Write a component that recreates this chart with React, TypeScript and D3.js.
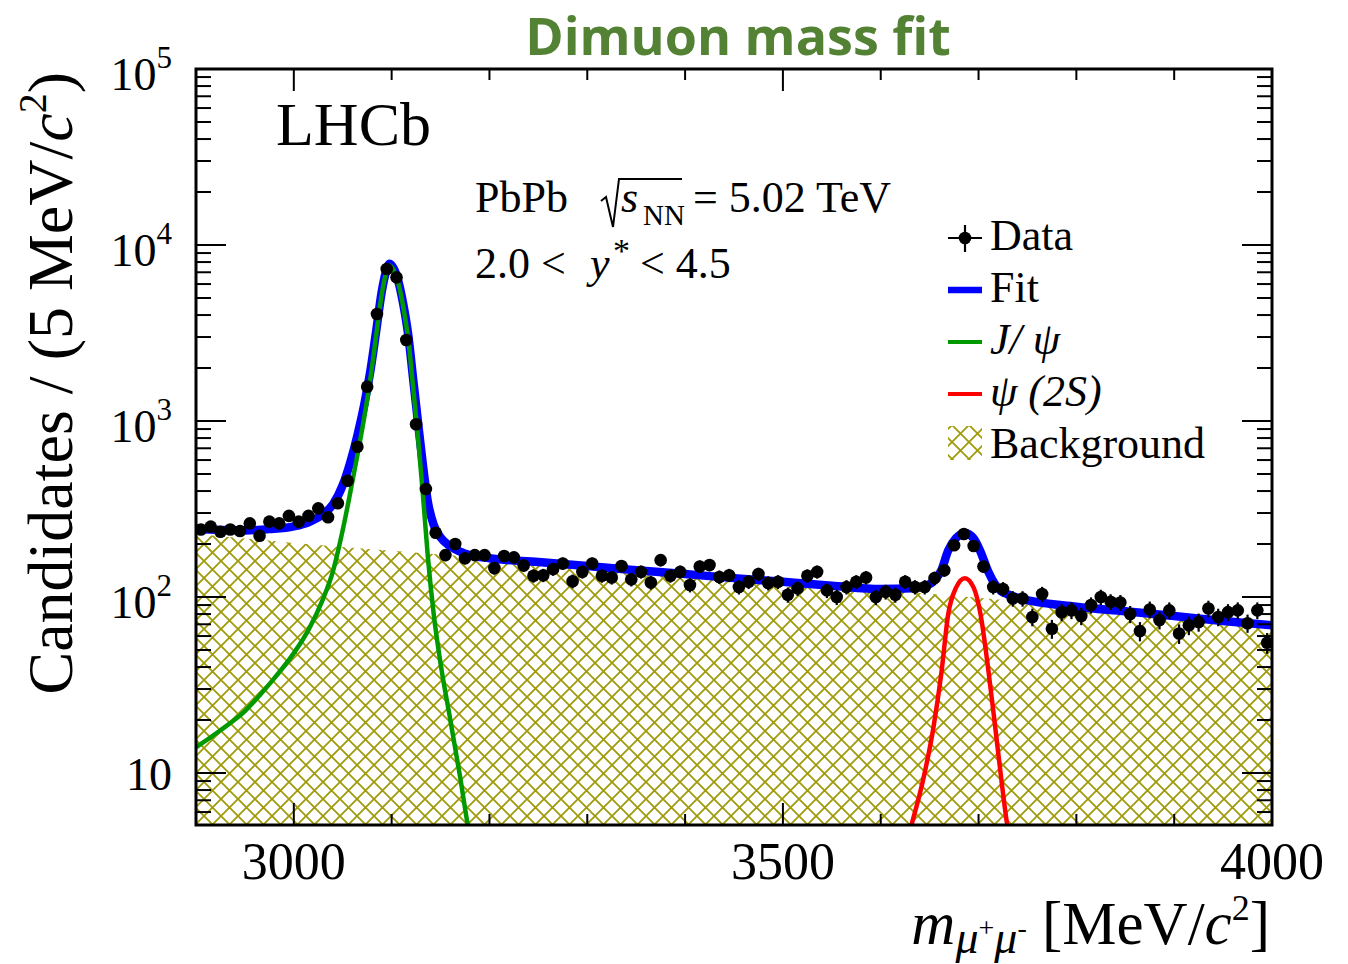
import * as d3 from "d3";
import { useEffect, useRef } from "react";

// data: dimuon candidates per bin, bins start at 2905 MeV, 10 MeV apart
const FIRST_BIN = 2905;
const BIN_STEP = 10;
const COUNTS = [
  242, 251, 235, 242, 237, 262, 223, 268, 262, 289,
  268, 289, 319, 284, 341, 458, 714, 1567, 4055, 7305,
  6550, 2885, 958, 411, 232, 173, 200, 166, 173, 173,
  146, 171, 168, 151, 132, 133, 144, 155, 123, 139,
  155, 132, 129, 150, 126, 139, 121, 162, 132, 139,
  117, 149, 152, 130, 133, 114, 122, 135, 120, 122,
  103, 112, 132, 139, 109, 100, 114, 122, 129, 100,
  107, 103, 122, 114, 114, 128, 142, 197, 228, 195,
  149, 114, 111, 98, 98, 77, 104, 66, 82, 84,
  78, 90, 100, 94, 93, 80, 64, 85, 74, 84,
  62, 69, 72, 86, 77, 82, 84, 71, 84, 55,
];

// fit components
const BKG_MASS = [2900, 3000, 3100, 3200, 3300, 3400, 3500, 3600, 3700, 3800, 3900, 4000];
const BKG_VAL = [228, 203, 183, 166, 150, 135, 122, 110, 99, 88, 78, 69];

const JPSI_MASS = [
  2900, 2925, 2950, 2975, 3000, 3015, 3030, 3040, 3050, 3058, 3065, 3072, 3078, 3084, 3090,
  3094, 3098, 3102, 3107, 3112, 3117, 3122, 3127, 3132, 3137, 3143, 3150, 3160, 3170, 3178, 3186,
];
const JPSI_VAL = [
  14, 17.5, 22.5, 32, 48, 65, 98, 140, 240, 400, 640, 1050, 1700, 3000, 5300,
  6800, 7650, 7200, 6000, 4400, 2900, 1550, 800, 380, 170, 80, 42, 20, 9.5, 5.0, 3.0,
];

const PSI2S_MASS = [3615, 3632, 3644, 3654, 3662, 3669, 3677, 3686, 3695, 3702, 3710, 3717, 3723, 3729, 3745];
const PSI2S_VAL = [2.5, 5.2, 9.5, 18.3, 37, 80, 113, 128, 113, 80, 38.5, 18.3, 9.5, 5.2, 2.5];

const FIT_MASS = [
  2900, 2925, 2950, 2975, 3000, 3015, 3030, 3040, 3050, 3058, 3065, 3072, 3078, 3084, 3090,
  3094, 3098, 3102, 3107, 3112, 3117, 3122, 3127, 3132, 3137, 3143, 3150, 3160, 3170, 3180,
  3200, 3250, 3300, 3350, 3400, 3450, 3500, 3550, 3600, 3632, 3644, 3654, 3662, 3669, 3677,
  3686, 3695, 3702, 3710, 3717, 3723, 3729, 3740, 3800, 3850, 3900, 3950, 4000,
];
const FIT_VAL = [
  244, 240, 239, 243, 252, 266, 296, 336, 432, 590, 828, 1238, 1885, 3185, 5480,
  6980, 7830, 7380, 6180, 4580, 3080, 1730, 978, 560, 348, 257, 218, 194, 181, 173,
  166, 158, 150, 142, 135, 128, 122, 116, 111, 112, 115, 123, 142, 184, 216,
  231, 215, 181, 139, 118, 108, 104, 99, 88, 83, 78, 73, 69,
];

const X_MAJOR = [3000, 3500, 4000];
const X_LABELS = ["3000", "3500", "4000"];
const Y_MAJOR = [10, 100, 1000, 10000, 100000];
const Y_EXP = ["", "2", "3", "4", "5"];

const SERIF = "'Liberation Serif', 'DejaVu Serif', serif";

export default function App() {
  const svgRef = useRef<SVGSVGElement | null>(null);

  useEffect(() => {
    const width = 1348;
    const height = 964;
    const left = 196, right = 1272, top = 69, bottom = 825;

    const x = d3.scaleLinear().domain([2900, 4000]).range([left, right]);
    const y = d3.scaleLog().domain([5.065, 1e5]).range([bottom, top]);

    const svg = d3.select(svgRef.current);
    svg.selectAll("*").remove();
    svg.attr("width", width).attr("height", height);

    const defs = svg.append("defs");
    defs.append("clipPath").attr("id", "plot-clip")
      .append("rect").attr("x", left).attr("y", top)
      .attr("width", right - left).attr("height", bottom - top);
    const pat = defs.append("pattern").attr("id", "hatch")
      .attr("patternUnits", "userSpaceOnUse").attr("width", 17).attr("height", 17);
    pat.append("path").attr("d", "M0,0L17,17M17,0L0,17")
      .attr("stroke", "#a09b0c").attr("stroke-width", 1.8).attr("fill", "none");

    const plot = svg.append("g").attr("clip-path", "url(#plot-clip)");

    // background hatch
    const bkgArea = d3.area<number>()
      .x((_, i) => x(BKG_MASS[i]))
      .y0(bottom)
      .y1(d => y(d))
      .curve(d3.curveMonotoneX);
    plot.append("path").datum(BKG_VAL).attr("d", bkgArea).attr("fill", "url(#hatch)");

    const curveLine = (mass: number[]) =>
      d3.line<number>().x((_, i) => x(mass[i])).y(d => y(d)).curve(d3.curveMonotoneX);

    plot.append("path").datum(FIT_VAL).attr("d", curveLine(FIT_MASS))
      .attr("fill", "none").attr("stroke", "#0000ff").attr("stroke-width", 8.5);
    plot.append("path").datum(JPSI_VAL).attr("d", curveLine(JPSI_MASS))
      .attr("fill", "none").attr("stroke", "#009a00").attr("stroke-width", 4.5);
    plot.append("path").datum(PSI2S_VAL).attr("d", curveLine(PSI2S_MASS))
      .attr("fill", "none").attr("stroke", "#ff0000").attr("stroke-width", 4.5);

    // data points with poisson errors
    const pts = plot.append("g");
    COUNTS.forEach((n, i) => {
      const m = FIRST_BIN + i * BIN_STEP;
      const e = Math.sqrt(n);
      pts.append("line")
        .attr("x1", x(m)).attr("x2", x(m))
        .attr("y1", y(n + e)).attr("y2", y(n - e))
        .attr("stroke", "black").attr("stroke-width", 2.2);
      pts.append("circle").attr("cx", x(m)).attr("cy", y(n)).attr("r", 6.3).attr("fill", "black");
    });

    // frame
    svg.append("rect").attr("x", left).attr("y", top)
      .attr("width", right - left).attr("height", bottom - top)
      .attr("fill", "none").attr("stroke", "black").attr("stroke-width", 3);

    const ticks = svg.append("g").attr("stroke", "black").attr("stroke-width", 2);
    d3.range(3000, 4000, 100).forEach(v => {
      const len = v % 500 === 0 ? 22 : 11;
      ticks.append("line").attr("x1", x(v)).attr("x2", x(v)).attr("y1", bottom).attr("y2", bottom - len);
      ticks.append("line").attr("x1", x(v)).attr("x2", x(v)).attr("y1", top).attr("y2", top + len);
    });
    [1, 10, 100, 1000, 10000].forEach(dec => {
      d3.range(1, 10).forEach(k => {
        const v = k * dec;
        if (v < 5.065 || v >= 1e5) return;
        const len = k === 1 ? 30 : 15;
        ticks.append("line").attr("x1", left).attr("x2", left + len).attr("y1", y(v)).attr("y2", y(v));
        ticks.append("line").attr("x1", right).attr("x2", right - len).attr("y1", y(v)).attr("y2", y(v));
      });
    });

    // tick labels
    X_MAJOR.forEach((v, i) => {
      svg.append("text").attr("x", x(v)).attr("y", 879).attr("text-anchor", "middle")
        .attr("font-family", SERIF).attr("font-size", 52).text(X_LABELS[i]);
    });
    Y_MAJOR.forEach((v, i) => {
      const t = svg.append("text").attr("x", 172).attr("text-anchor", "end")
        .attr("font-family", SERIF).attr("font-size", 46);
      if (Y_EXP[i] === "") {
        t.attr("y", y(v) + 17).text("10");
      } else {
        t.attr("y", y(v) + 21);
        t.append("tspan").text("10");
        t.append("tspan").attr("font-size", 31).attr("dy", -22).text(Y_EXP[i]);
      }
    });

    // axis titles
    const yt = svg.append("text")
      .attr("transform", "translate(72,72) rotate(-90)")
      .attr("text-anchor", "end").attr("font-family", SERIF).attr("font-size", 64);
    yt.append("tspan").text("Candidates / (5 MeV/");
    yt.append("tspan").attr("font-style", "italic").text("c");
    yt.append("tspan").attr("font-size", 40).attr("dy", -26).text("2");
    yt.append("tspan").attr("dy", 26).text(")");

    const xt = svg.append("text").attr("x", 1270).attr("y", 944)
      .attr("text-anchor", "end").attr("font-family", SERIF).attr("font-size", 61);
    xt.append("tspan").attr("font-style", "italic").text("m");
    xt.append("tspan").attr("font-style", "italic").attr("font-size", 46).attr("dy", 9).text("μ");
    xt.append("tspan").attr("font-size", 28).attr("dy", -16).text("+");
    xt.append("tspan").attr("font-style", "italic").attr("font-size", 46).attr("dy", 16).text("μ");
    xt.append("tspan").attr("font-size", 28).attr("dy", -16).text("-");
    xt.append("tspan").attr("dy", 7).text(" [MeV/");
    xt.append("tspan").attr("font-style", "italic").text("c");
    xt.append("tspan").attr("font-size", 36).attr("dy", -24).text("2");
    xt.append("tspan").attr("dy", 24).text("]");

    // labels inside the plot
    svg.append("text").attr("x", 276).attr("y", 145)
      .attr("font-family", SERIF).attr("font-size", 62).text("LHCb");

    const txt = (xx: number, yy: number, s: string, size = 44, italic = false) =>
      svg.append("text").attr("x", xx).attr("y", yy).attr("font-family", SERIF)
        .attr("font-size", size).attr("font-style", italic ? "italic" : "normal").text(s);

    txt(475, 212, "PbPb");
    svg.append("path").attr("d", "M601,201L606,197L613,227L619,179L682,179")
      .attr("fill", "none").attr("stroke", "black").attr("stroke-width", 2);
    txt(621, 212, "s", 44, true);
    txt(643, 225, "NN", 29);
    txt(693, 212, "= 5.02 TeV");
    txt(475, 278, "2.0 <");
    txt(590, 278, "y", 44, true);
    txt(613, 262, "*", 34);
    txt(640, 278, "< 4.5");

    // legend
    const lg = svg.append("g");
    const lx0 = 948, lx1 = 982, lxm = 965;
    lg.append("line").attr("x1", lx0).attr("x2", lx1).attr("y1", 238).attr("y2", 238)
      .attr("stroke", "black").attr("stroke-width", 2.2);
    lg.append("line").attr("x1", lxm).attr("x2", lxm).attr("y1", 225).attr("y2", 252)
      .attr("stroke", "black").attr("stroke-width", 2.2);
    lg.append("circle").attr("cx", lxm).attr("cy", 238).attr("r", 6.3).attr("fill", "black");
    lg.append("line").attr("x1", lx0).attr("x2", lx1).attr("y1", 290).attr("y2", 290)
      .attr("stroke", "#0000ff").attr("stroke-width", 6.5);
    lg.append("line").attr("x1", lx0).attr("x2", lx1).attr("y1", 342).attr("y2", 342)
      .attr("stroke", "#009a00").attr("stroke-width", 4);
    lg.append("line").attr("x1", lx0).attr("x2", lx1).attr("y1", 394).attr("y2", 394)
      .attr("stroke", "#ff0000").attr("stroke-width", 4);
    lg.append("rect").attr("x", lx0).attr("y", 426).attr("width", lx1 - lx0).attr("height", 34)
      .attr("fill", "url(#hatch)");

    txt(990, 250, "Data");
    txt(990, 302, "Fit");
    txt(990, 354, "J/ ψ", 44, true);
    txt(990, 406, "ψ (2S)", 44, true);
    txt(990, 458, "Background");

    // slide title
    svg.append("text").attr("x", 738).attr("y", 55).attr("text-anchor", "middle")
      .attr("font-family", "'Open Sans', sans-serif").attr("font-weight", 700)
      .attr("font-size", 52).attr("fill", "#548235").text("Dimuon mass fit");
  }, []);

  return <svg ref={svgRef} style={{ position: "absolute", left: 0, top: 0 }} />;
}
